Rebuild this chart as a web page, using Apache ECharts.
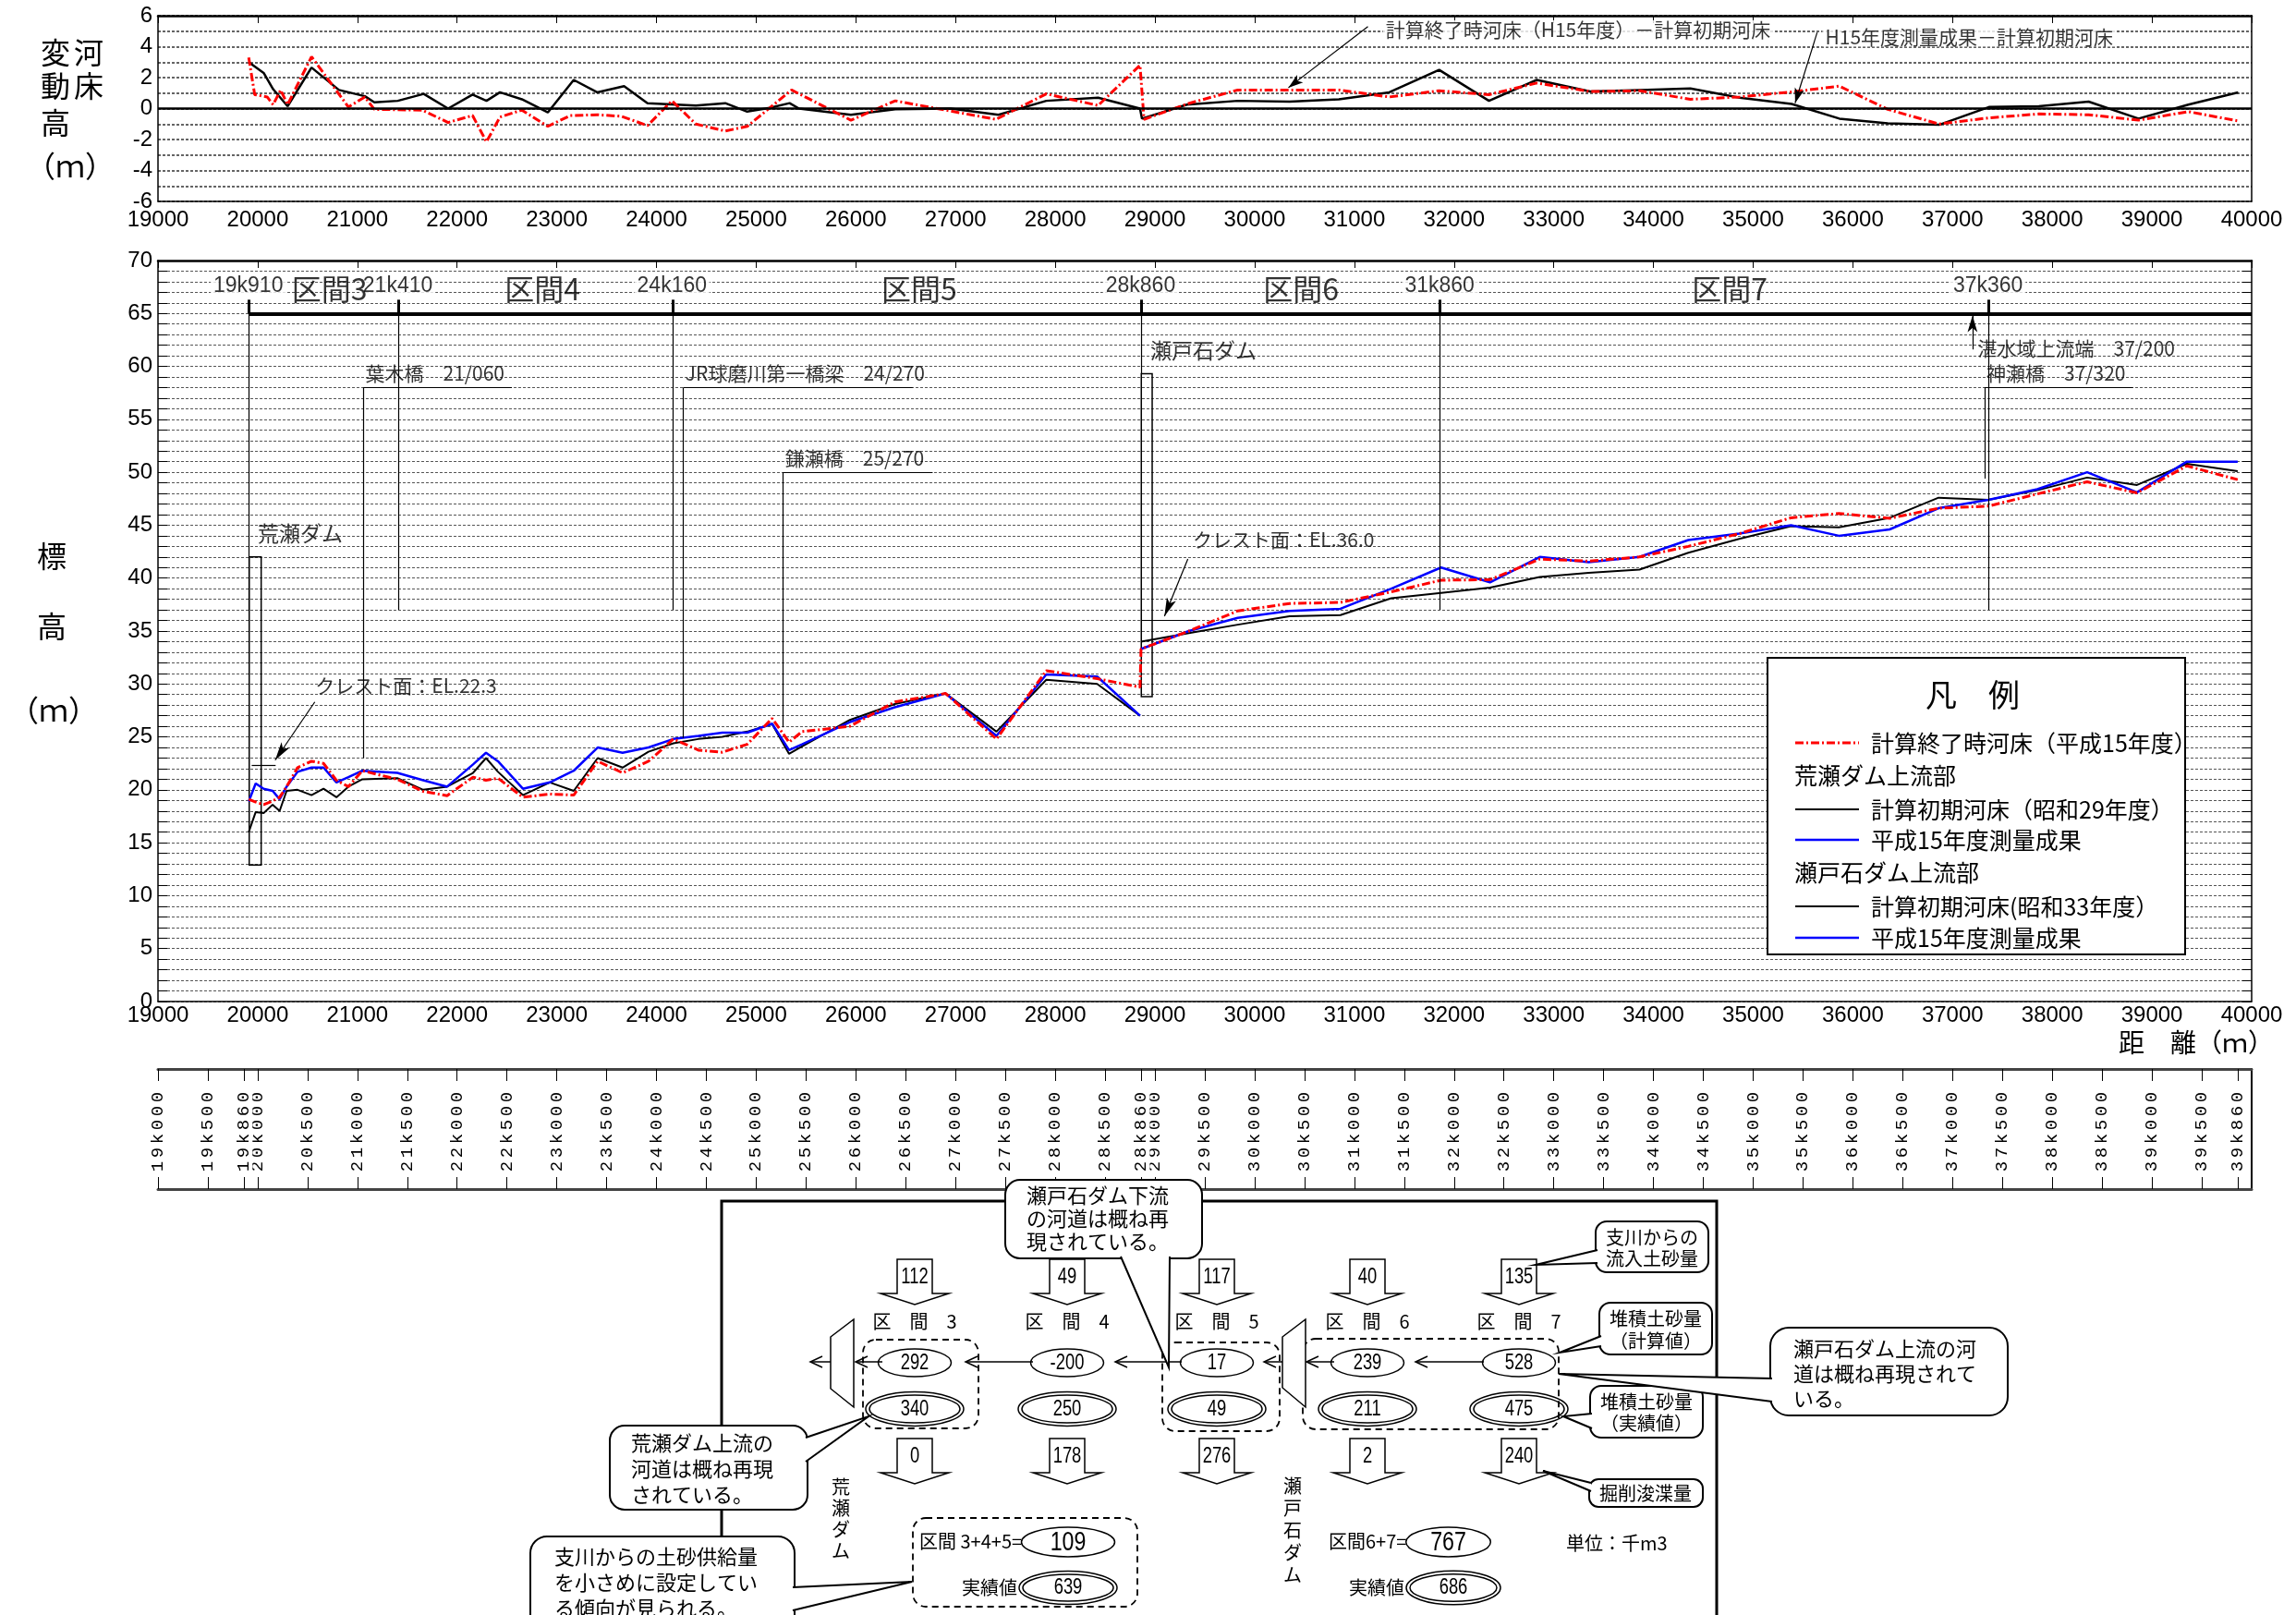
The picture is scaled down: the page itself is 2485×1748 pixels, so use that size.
<!DOCTYPE html>
<html>
<head>
<meta charset="utf-8">
<script src="https://cdn.jsdelivr.net/npm/echarts@6/dist/echarts.min.js"></script>
<style>
html,body{margin:0;padding:0;background:#fff;}
#c{width:2485px;height:1748px;}
</style>
</head>
<body>
<div id="c"></div>
<script>
// ---------------- longitudinal bed profile (distance m / elevation EL.m) ----------------
// 荒瀬ダム上流部
const distArase = [19910, 19980, 20060, 20150, 20220, 20290, 20400, 20540, 20660, 20790,
  20910, 21050, 21400, 21660, 21900, 22160, 22290, 22410, 22660, 22930,
  23170, 23410, 23660, 23920, 24170, 24420, 24660, 24910, 25160, 25330,
  25460, 25940, 26390, 26900, 27410, 27910, 28420, 28850];
const bedInitS29 = [16.0, 17.9, 17.8, 18.6, 18.0, 19.9, 20.0, 19.5, 20.1, 19.3,
  20.3, 21.0, 21.1, 20.0, 20.3, 21.6, 23.0, 21.7, 19.5, 20.7,
  19.9, 23.0, 22.1, 23.6, 24.4, 24.8, 25.0, 25.5, 26.2, 23.4,
  24.1, 26.6, 28.1, 29.1, 25.5, 30.4, 30.0, 27.0];
const bedSurveyArase = [18.9, 20.6, 20.1, 19.9, 19.1, 20.3, 21.7, 22.1, 22.1, 20.7,
  21.2, 21.8, 21.6, 20.9, 20.3, 22.4, 23.5, 22.7, 20.1, 20.7,
  21.8, 24.0, 23.5, 24.0, 24.8, 25.1, 25.4, 25.4, 26.25, 23.75,
  24.3, 26.4, 27.8, 29.1, 25.1, 30.9, 30.7, 27.0];
const bedCalcArase = [19.1, 18.85, 18.6, 18.95, 19.3, 20.3, 22.1, 22.7, 22.5, 20.9,
  20.3, 21.8, 21.0, 19.85, 19.45, 21.2, 20.9, 21.1, 19.3, 19.6,
  19.5, 22.7, 21.6, 22.7, 24.8, 23.75, 23.55, 24.3, 26.75, 24.5,
  25.5, 26.0, 28.3, 29.1, 24.8, 31.25, 30.5, 29.7];
// 瀬戸石ダム上流部
const distSetoishi = [28860, 29340, 29830, 30350, 30860, 31370, 31870, 32360, 32860, 33350,
  33860, 34350, 34860, 35380, 35860, 36370, 36860, 37360, 37850, 38350,
  38850, 39350, 39860];
const bedInitS33 = [34.0, 34.8, 35.6, 36.4, 36.5, 38.1, 38.6, 39.1, 40.1, 40.5,
  40.8, 42.4, 43.7, 44.9, 44.8, 45.7, 47.6, 47.4, 48.3, 49.5,
  48.8, 50.8, 50.1];
const bedSurveySetoishi = [33.3, 35.0, 36.25, 36.9, 37.1, 39.0, 41.0, 39.6, 42.0, 41.5,
  42.0, 43.6, 44.2, 45.0, 44.0, 44.6, 46.6, 47.4, 48.4, 50.0,
  48.1, 51.0, 51.0];
const bedCalcSetoishi = [33.3, 35.0, 36.9, 37.6, 37.7, 38.7, 39.8, 39.85, 41.8, 41.6,
  42.0, 43.0, 44.2, 45.7, 46.1, 45.65, 46.6, 46.8, 47.95, 49.1,
  48.05, 50.6, 49.3];

// ---------------- bed change relative to the initial bed [distance m, change m] ----------------
const changeCalc = [[19910,3.3],[19970,0.9],[20095,0.75],[20155,0.25],[20230,1.2],[20300,0.25],
  [20540,3.35],[20910,0.1],[21075,0.75],[21170,-0.05],[21650,-0.1],[21910,-0.9],[22155,-0.45],
  [22295,-2.15],[22430,-0.55],[22650,-0.1],[22910,-1.15],[23135,-0.45],[23405,-0.4],[23650,-0.5],
  [23910,-1.1],[24155,0.5],[24395,-1.0],[24690,-1.45],[24910,-1.15],[25355,1.2],[25950,-0.75],
  [26395,0.5],[27405,-0.7],[27910,0.95],[28430,0.2],[28850,2.8],[28890,-0.7],[29320,0.3],
  [29830,1.2],[30240,1.2],[30845,1.2],[31350,0.75],[31850,1.15],[32350,0.9],[32830,1.65],
  [33365,1.1],[33865,1.15],[34370,0.6],[34865,0.75],[35420,1.1],[35865,1.45],[36350,-0.05],
  [36865,-1.0],[37365,-0.6],[37865,-0.35],[38365,-0.4],[38865,-0.75],[39365,-0.2],[39865,-0.8]];
const changeSurvey = [[19910,3.0],[20060,2.3],[20155,1.25],[20300,0.15],[20540,2.65],[20815,1.2],
  [21075,0.8],[21170,0.4],[21405,0.5],[21665,0.95],[21910,0.0],[22155,0.9],[22295,0.5],
  [22430,1.05],[22650,0.6],[22910,-0.25],[23170,1.85],[23405,1.05],[23675,1.45],[23910,0.35],
  [24395,0.2],[24690,0.35],[24910,-0.2],[25135,0.05],[25335,0.35],[25430,0.0],[25950,-0.4],
  [26395,-0.05],[26950,0.0],[27430,-0.4],[27910,0.5],[28430,0.7],[28850,0.0],[28870,-0.65],
  [29320,0.25],[29830,0.5],[30350,0.45],[30845,0.6],[31350,1.05],[31850,2.5],[32350,0.5],
  [32830,1.85],[33365,1.1],[33865,1.2],[34370,1.3],[34865,0.7],[35385,0.3],[35865,-0.65],
  [36350,-0.95],[36865,-1.05],[37365,0.1],[37865,0.15],[38365,0.45],[38865,-0.65],[39365,0.25],
  [39865,1.05]];

// ---------------- reach boundaries, structures ----------------
const sectionPosts = [19910, 21410, 24160, 28860, 31860, 37360];
const sectionNames = ['区間3', '区間4', '区間5', '区間6', '区間7'];
const sectionNameDist = [20725, 22860, 26640, 30470, 34770];
const bridgeNames = ['葉木橋', 'JR球磨川第一橋梁', '鎌瀬橋', '神瀬橋'];
const bridgeDist = [21060, 24270, 25270, 37320];
const bridgeLabelElev = [58.0, 58.0, 50.0, 58.0];
const bridgeLeaderEnd = [22550, 26570, 26770, 38810];
const bridgeFootElev = [23.0, 24.9, 25.9, 49.4];
const damNames = ['荒瀬ダム', '瀬戸石ダム'];
const damDist = [19910, 28860];
const damTopElev = [42.0, 59.3];
const damBottomElev = [12.9, 28.8];
const crestEL = [22.3, 36.0];
const backwaterEnd = 37200; // 湛水域上流端

// km posts along the lower strip
const kmPosts = [19000, 19500, 20000, 20500, 21000, 21500, 22000, 22500, 23000, 23500,
  24000, 24500, 25000, 25500, 26000, 26500, 27000, 27500, 28000, 28500,
  29000, 29500, 30000, 30500, 31000, 31500, 32000, 32500, 33000, 33500,
  34000, 34500, 35000, 35500, 36000, 36500, 37000, 37500, 38000, 38500,
  39000, 39500, 39860, 19860, 28860];

// ---------------- sediment balance (千m3) per reach ----------------
const reachNos = [3, 4, 5, 6, 7];
const tributaryInflow = [112, 49, 117, 40, 135];
const depositCalc = [292, -200, 17, 239, 528];
const depositObs = [340, 250, 49, 211, 475];
const dredged = [0, 178, 276, 2, 240];
const totalCalc = [109, 767];   // 区間3+4+5, 区間6+7
const totalObs = [639, 686];

// ---------------------------------------------------------------------------
const JP = "'Noto Sans CJK JP','Noto Sans CJK SC',sans-serif";
const SANS = "'Liberation Sans Narrow','Liberation Sans','Noto Sans CJK JP',sans-serif";
const NUM = "'Liberation Sans',sans-serif";
const RED = '#ff0000', BLUE = '#0000ff', BLACK = '#000000';
const redDash = [9, 3, 2, 3];

const zip = (xs, ys) => xs.map((x, i) => [x, ys[i]]);
const kmLabel = v => Math.floor(v / 1000) + 'k' + String(v % 1000).padStart(3, '0');
const staLabel = v => Math.floor(v / 1000) + '/' + String(v % 1000).padStart(3, '0');

function seg(a, b, w) {
  return [{coord: a, symbol: 'none'},
          {coord: b, symbol: 'none', lineStyle: {width: w || 1.2, color: BLACK, type: 'solid'}}];
}
function arrowSeg(a, b, size) {
  return [{coord: a, symbol: 'none'},
          {coord: b, symbol: 'arrow', symbolSize: size || [8, 20],
           lineStyle: {width: 1.2, color: BLACK, type: 'solid'}}];
}
function note(x, y, text, opt) {
  opt = opt || {};
  const lab = {show: true, formatter: text, position: [0, 0],
    align: opt.align || 'left', verticalAlign: 'middle', fontSize: opt.size || 21,
    fontFamily: opt.family || JP, color: BLACK};
  if (opt.bg) { lab.backgroundColor = '#fff'; lab.padding = [0, 3]; }
  return {value: [x, y], label: lab};
}

// ---- profile annotations ----
const mainLines = [];
mainLines.push(seg([sectionPosts[0], 65], [40000, 65], 4));
sectionPosts.forEach(p => mainLines.push(seg([p, 65], [p, 66.3], 3)));
sectionPosts.forEach(p => mainLines.push(seg([p, 65], [p, p === damDist[1] ? damTopElev[1] : 37.0], 1.2)));
bridgeDist.forEach((d, i) => {
  mainLines.push(seg([d, bridgeLabelElev[i]], [bridgeLeaderEnd[i], bridgeLabelElev[i]], 1.2));
  mainLines.push(seg([d, bridgeLabelElev[i]], [d, bridgeFootElev[i]], 1.2));
});
mainLines.push(seg([damDist[0] + 30, crestEL[0]], [damDist[0] + 270, crestEL[0]], 1.2));
mainLines.push(seg([damDist[1], crestEL[1]], [damDist[1] + 560, crestEL[1]], 1.2));
mainLines.push(arrowSeg([20573, 28.3], [20175, crestEL[0] + 0.5]));
mainLines.push(arrowSeg([29330, 41.8], [29095, crestEL[1] + 0.4]));
mainLines.push(arrowSeg([backwaterEnd, 61.6], [backwaterEnd, 64.8], [8, 18]));

const mainNotes = [];
sectionPosts.forEach(p => mainNotes.push(note(p, 67.5, kmLabel(p), {align: 'center', size: 23, family: SANS, bg: true})));
sectionNames.forEach((n, i) => mainNotes.push(note(sectionNameDist[i], 67.3, n, {align: 'center', size: 32})));
bridgeNames.forEach((n, i) => mainNotes.push(note(bridgeDist[i] + 25, bridgeLabelElev[i] + 1.3, n + '　' + staLabel(bridgeDist[i]))));
mainNotes.push(note(damDist[0] + 95, 44.2, damNames[0], {size: 23}));
mainNotes.push(note(damDist[1] + 98, 61.5, damNames[1], {size: 23}));
mainNotes.push(note(20583, 29.8, 'クレスト面：EL.' + crestEL[0].toFixed(1)));
mainNotes.push(note(29384, 43.6, 'クレスト面：EL.' + crestEL[1].toFixed(1)));
mainNotes.push(note(backwaterEnd + 57, 61.7, '湛水域上流端　' + staLabel(backwaterEnd)));

const topNotes = [
  note(31290, 5.05, '計算終了時河床（H15年度）－計算初期河床', {bg: true}),
  note(35700, 4.6, 'H15年度測量成果－計算初期河床', {bg: true})
];

// ---------------- graphic layer: titles, legend, balance diagram ----------------
const G = [];
function txt(x, y, text, size, opt) {
  opt = opt || {};
  const a = opt.align || 'left', va = opt.va || 'middle';
  G.push({type: 'text', x: x, y: y, scaleX: opt.sx || 1, silent: true, z: 50,
    style: {text: text, fill: BLACK, font: (opt.weight || 'normal') + ' ' + size + 'px ' + (opt.family || JP),
      align: a, verticalAlign: va, textAlign: a, textVerticalAlign: va, lineHeight: opt.lh}});
}
function gline(x1, y1, x2, y2, w, color, dash) {
  G.push({type: 'line', silent: true, z: 50, shape: {x1: x1, y1: y1, x2: x2, y2: y2},
    style: {stroke: color || BLACK, lineWidth: w || 2, lineDash: dash || null}});
}
function grect(x, y, w, h, r, style) {
  G.push({type: 'rect', silent: true, z: 50, shape: {x: x, y: y, width: w, height: h, r: r || 0}, style: style});
}
function gpoly(points, fill, w, closed) {
  G.push({type: closed ? 'polygon' : 'polyline', silent: true, z: 50, shape: {points: points},
    style: {fill: fill || null, stroke: BLACK, lineWidth: w || 1.5}});
}
function gellipse(cx, cy, rx, ry, w) {
  G.push({type: 'ellipse', silent: true, z: 50, shape: {cx: cx, cy: cy, rx: rx, ry: ry},
    style: {fill: null, stroke: BLACK, lineWidth: w || 1.5}});
}
function bubble(x, y, w, h, r, tail) {
  grect(x, y, w, h, r, {fill: '#fff', stroke: BLACK, lineWidth: 2});
  gpoly(tail, '#fff', 2, false);
}

// axis titles
txt(60, 57, '変', 32, {align: 'center'});
txt(96, 57, '河', 32, {align: 'center'});
txt(60, 93, '動', 32, {align: 'center'});
txt(96, 93, '床', 32, {align: 'center'});
txt(60, 133, '高', 32, {align: 'center'});
txt(76, 180, '（ｍ）', 32, {align: 'center'});
txt(56, 602, '標', 32, {align: 'center'});
txt(56, 678, '高', 32, {align: 'center'});
txt(58, 769, '（ｍ）', 32, {align: 'center'});
txt(2293, 1128, '距　離（ｍ）', 28);

// legend
grect(1913, 712, 452, 321, 0, {fill: '#fff', stroke: BLACK, lineWidth: 2});
txt(2135, 752, '凡　例', 34, {align: 'center'});
gline(1943, 804, 2012, 804, 3, RED, redDash);
txt(2025, 804, '計算終了時河床（平成15年度）', 25);
txt(1942, 839, '荒瀬ダム上流部', 25);
gline(1943, 876, 2012, 876, 2, BLACK);
txt(2025, 876, '計算初期河床（昭和29年度）', 25);
gline(1943, 909, 2012, 909, 2.5, BLUE);
txt(2025, 909, '平成15年度測量成果', 25);
txt(1942, 944, '瀬戸石ダム上流部', 25);
gline(1943, 981, 2012, 981, 2, BLACK);
txt(2025, 981, '計算初期河床(昭和33年度）', 25);
gline(1943, 1015, 2012, 1015, 2.5, BLUE);
txt(2025, 1015, '平成15年度測量成果', 25);

// balance diagram frame
grect(781, 1300, 1077, 520, 0, {fill: null, stroke: BLACK, lineWidth: 3});

const colX = [990, 1155, 1317, 1480, 1644];
function blockArrow(cx, y0, label) {
  gpoly([[cx - 19, y0], [cx + 19, y0], [cx + 19, y0 + 37], [cx + 37, y0 + 37], [cx, y0 + 49],
         [cx - 37, y0 + 37], [cx - 19, y0 + 37]], '#fff', 1.5, true);
  txt(cx, y0 + 20, String(label), 23, {align: 'center', family: NUM, sx: 0.8});
}
function flowArrow(x1, x2, y) {
  gline(x1, y, x2, y, 1.5);
  gpoly([[x2 + 13, y - 6], [x2, y], [x2 + 13, y + 6]], null, 1.5, false);
}
const dashStyle = {fill: null, stroke: BLACK, lineWidth: 1.8, lineDash: [7, 5]};

// reach groups
grect(934, 1450, 125, 96, 14, dashStyle);
grect(1258, 1453, 127, 96, 14, dashStyle);
grect(1410, 1449, 277, 98, 14, dashStyle);
grect(988, 1643, 243, 96, 14, dashStyle);

// flows between reaches
flowArrow(1606, 1532, 1474);
flowArrow(1444, 1414, 1474);
flowArrow(1388, 1368, 1474);
flowArrow(1279, 1207, 1474);
flowArrow(1118, 1045, 1474);
flowArrow(955, 926, 1474);
flowArrow(899, 877, 1474);

// dams
gpoly([[899, 1447], [924, 1428], [924, 1523], [899, 1503]], '#fff', 1.5, true);
gpoly([[1388, 1447], [1413, 1428], [1413, 1523], [1388, 1502]], '#fff', 1.5, true);
txt(910, 1644, '荒\n瀬\nダ\nム', 20, {align: 'center', lh: 23});
txt(1399, 1656, '瀬\n戸\n石\nダ\nム', 20, {align: 'center', lh: 24});

reachNos.forEach((n, i) => {
  const cx = colX[i];
  blockArrow(cx, 1363, tributaryInflow[i]);
  txt(cx, 1430, '区　間　' + n, 20, {align: 'center'});
  gellipse(cx, 1475, 39.5, 15);
  txt(cx, 1476, String(depositCalc[i]), 23, {align: 'center', family: NUM, sx: 0.8});
  gellipse(cx, 1525, 53, 18.5);
  gellipse(cx, 1525, 49, 15);
  txt(cx, 1526, String(depositObs[i]), 23, {align: 'center', family: NUM, sx: 0.8});
  blockArrow(cx, 1557, dredged[i]);
});

// totals
txt(995, 1668, '区間 3+4+5=', 20);
gellipse(1156, 1669, 50.5, 16);
txt(1156, 1670, String(totalCalc[0]), 29, {align: 'center', family: NUM, sx: 0.8});
txt(1101, 1718, '実績値', 20, {align: 'right'});
gellipse(1156, 1718.5, 53, 18);
gellipse(1156, 1718.5, 49, 14.5);
txt(1156, 1719, String(totalObs[0]), 23, {align: 'center', family: NUM, sx: 0.8});
txt(1438, 1668, '区間6+7=', 20);
gellipse(1567.5, 1669, 45.8, 16);
txt(1567.5, 1670, String(totalCalc[1]), 29, {align: 'center', family: NUM, sx: 0.8});
txt(1520, 1718, '実績値', 20, {align: 'right'});
gellipse(1573, 1718.5, 51, 18.3);
gellipse(1573, 1718.5, 47, 14.8);
txt(1573, 1719, String(totalObs[1]), 23, {align: 'center', family: NUM, sx: 0.8});
txt(1695, 1670, '単位：千m3', 20);

// callouts
bubble(1088, 1277, 213, 85, 16, [[1213, 1360], [1265, 1480], [1266, 1360]]);
txt(1111, 1294, '瀬戸石ダム下流', 22);
txt(1111, 1319, 'の河道は概ね再', 22);
txt(1111, 1344, '現されている。', 22);

bubble(660, 1543, 214, 91, 16, [[872, 1556], [940, 1533], [872, 1582]]);
txt(683, 1562, '荒瀬ダム上流の', 22);
txt(683, 1590, '河道は概ね再現', 22);
txt(683, 1618, 'されている。', 22);

bubble(574, 1663, 286, 120, 18, [[858, 1718], [987, 1712], [858, 1743]]);
txt(600, 1685, '支川からの土砂供給量', 22);
txt(600, 1713, 'を小さめに設定してい', 22);
txt(600, 1741, 'る傾向が見られる。', 22);

bubble(1727, 1322, 122, 55, 12, [[1729, 1353], [1662, 1369], [1729, 1367]]);
txt(1788, 1339, '支川からの', 20, {align: 'center'});
txt(1788, 1362, '流入土砂量', 20, {align: 'center'});

bubble(1731, 1410, 122, 56, 12, [[1733, 1446], [1688, 1464], [1733, 1457]]);
txt(1792, 1427, '堆積土砂量', 20, {align: 'center'});
txt(1792, 1451, '（計算値）', 20, {align: 'center'});

bubble(1721, 1500, 122, 56, 12, [[1723, 1530], [1692, 1533], [1723, 1546]]);
txt(1782, 1517, '堆積土砂量', 20, {align: 'center'});
txt(1782, 1540, '（実績値）', 20, {align: 'center'});

bubble(1720, 1601, 123, 30, 10, [[1722, 1605], [1670, 1592], [1722, 1614]]);
txt(1781, 1616, '掘削浚渫量', 20, {align: 'center'});

bubble(1916, 1437, 257, 95, 20, [[1918, 1492], [1687, 1487], [1918, 1517]]);
txt(1941, 1460, '瀬戸石ダム上流の河', 22);
txt(1941, 1487, '道は概ね再現されて', 22);
txt(1941, 1514, 'いる。', 22);

// ---------------------------------------------------------------------------
const gridLine = {show: true, lineStyle: {color: '#555', width: 1, type: [3, 2]}};
const topGridLine = {show: true, lineStyle: {color: '#333', width: 1.5, type: [3, 2]}};
const noLabel = {show: false};

function distAxis(grid, pos, withLabels, margin) {
  return {gridIndex: grid, type: 'value', min: 19000, max: 40000, interval: 1000, position: pos,
    axisLine: {show: true, onZero: false, lineStyle: {color: BLACK, width: pos === 'top' ? 2.5 : 1.5}},
    axisTick: pos === 'top' ? {show: true, inside: true, length: 8, lineStyle: {color: BLACK, width: 1}} : {show: false},
    axisLabel: withLabels ? {show: true, fontSize: 24, color: BLACK, fontFamily: SANS, margin: margin,
      formatter: v => String(v)} : noLabel,
    splitLine: {show: false}};
}

const option = {
  animation: false,
  backgroundColor: '#ffffff',
  textStyle: {fontFamily: JP},
  grid: [
    {left: 171, top: 17, width: 2266, height: 201},
    {left: 171, top: 282, width: 2266, height: 802},
    {left: 171, top: 1157, width: 2266, height: 130}
  ],
  xAxis: [
    distAxis(0, 'bottom', true, 8),
    distAxis(0, 'top', false),
    distAxis(1, 'bottom', true, 3),
    distAxis(1, 'top', false),
    {gridIndex: 2, type: 'value', min: 19000, max: 40000, position: 'bottom',
      axisLine: {show: true, onZero: false, lineStyle: {color: '#444', width: 3}},
      axisTick: {show: true, inside: true, length: 13, customValues: kmPosts, lineStyle: {color: BLACK, width: 1}},
      axisLabel: {show: true, inside: true, rotate: 90, margin: 17, customValues: kmPosts,
        backgroundColor: '#fff',
        formatter: v => kmLabel(v).split('').map(ch => '{c|' + ch + '}').join(''),
        rich: {c: {width: 15, align: 'center', fontSize: 19, fontFamily: "'Liberation Mono','DejaVu Sans Mono',monospace", color: BLACK}}},
      splitLine: {show: false}},
    {gridIndex: 2, type: 'value', min: 19000, max: 40000, position: 'top',
      axisLine: {show: true, onZero: false, lineStyle: {color: '#444', width: 3}},
      axisTick: {show: true, inside: true, length: 13, customValues: kmPosts, lineStyle: {color: BLACK, width: 1}},
      axisLabel: noLabel, splitLine: {show: false}}
  ],
  yAxis: [
    {gridIndex: 0, type: 'value', min: -6, max: 6, interval: 2, position: 'left',
      axisLine: {show: true, lineStyle: {color: BLACK, width: 1.5}}, axisTick: {show: false},
      axisLabel: {fontSize: 24, color: BLACK, fontFamily: SANS, margin: 6},
      splitLine: topGridLine, minorTick: {show: false, splitNumber: 2}, minorSplitLine: topGridLine},
    {gridIndex: 0, type: 'value', min: -6, max: 6, position: 'right',
      axisLine: {show: true, lineStyle: {color: BLACK, width: 1.5}}, axisTick: {show: false},
      axisLabel: noLabel, splitLine: {show: false}},
    {gridIndex: 1, type: 'value', min: 0, max: 70, interval: 5, position: 'left',
      axisLine: {show: true, lineStyle: {color: BLACK, width: 1.5}},
      axisTick: {show: true, inside: true, length: 10, lineStyle: {color: BLACK}},
      minorTick: {show: true, splitNumber: 5, length: 10, lineStyle: {color: BLACK}},
      axisLabel: {fontSize: 24, color: BLACK, fontFamily: SANS, margin: 6},
      splitLine: gridLine, minorSplitLine: gridLine},
    {gridIndex: 1, type: 'value', min: 0, max: 70, interval: 5, position: 'right',
      axisLine: {show: true, lineStyle: {color: BLACK, width: 1.5}},
      axisTick: {show: true, inside: true, length: 10, lineStyle: {color: BLACK}},
      minorTick: {show: true, splitNumber: 5, length: 10, lineStyle: {color: BLACK}},
      axisLabel: noLabel, splitLine: {show: false}},
    {gridIndex: 2, type: 'value', min: 0, max: 1, show: false},
    {gridIndex: 2, type: 'value', min: 0, max: 1, position: 'right',
      axisLine: {show: true, lineStyle: {color: BLACK, width: 2}}, axisTick: {show: false},
      axisLabel: noLabel, splitLine: {show: false}}
  ],
  series: [
    {name: '計算終了時河床（H15年度）－計算初期河床', type: 'line', xAxisIndex: 0, yAxisIndex: 0,
      data: changeCalc, symbol: 'none', z: 4, lineStyle: {color: RED, width: 3, type: redDash},
      markLine: {silent: true, animation: false, symbol: ['none', 'none'], label: {show: false},
        emphasis: {disabled: true}, lineStyle: {color: BLACK, width: 1.2, type: 'solid'},
        data: [
          {yAxis: 0, lineStyle: {color: BLACK, width: 2.5, type: 'solid'}},
          arrowSeg([31136, 5.3], [30338, 1.35], [8, 16]),
          arrowSeg([35642, 4.92], [35421, 0.36], [8, 16])
        ]}},
    {name: 'H15年度測量成果－計算初期河床', type: 'line', xAxisIndex: 0, yAxisIndex: 0,
      data: changeSurvey, symbol: 'none', z: 3, lineStyle: {color: BLACK, width: 2.5}},
    {type: 'scatter', xAxisIndex: 0, yAxisIndex: 0, symbolSize: 1, silent: true,
      itemStyle: {color: 'rgba(0,0,0,0)'}, data: topNotes},

    {name: '計算初期河床（昭和29年度）', type: 'line', xAxisIndex: 2, yAxisIndex: 2,
      data: zip(distArase, bedInitS29), symbol: 'none', z: 3, lineStyle: {color: BLACK, width: 2}},
    {name: '平成15年度測量成果（荒瀬ダム上流部）', type: 'line', xAxisIndex: 2, yAxisIndex: 2,
      data: zip(distArase, bedSurveyArase), symbol: 'none', z: 3, lineStyle: {color: BLUE, width: 2.5}},
    {name: '計算初期河床（昭和33年度）', type: 'line', xAxisIndex: 2, yAxisIndex: 2,
      data: zip(distSetoishi, bedInitS33), symbol: 'none', z: 3, lineStyle: {color: BLACK, width: 2}},
    {name: '平成15年度測量成果（瀬戸石ダム上流部）', type: 'line', xAxisIndex: 2, yAxisIndex: 2,
      data: zip(distSetoishi, bedSurveySetoishi), symbol: 'none', z: 3, lineStyle: {color: BLUE, width: 2.5}},
    {name: '計算終了時河床（平成15年度）', type: 'line', xAxisIndex: 2, yAxisIndex: 2,
      data: zip(distArase, bedCalcArase).concat(zip(distSetoishi, bedCalcSetoishi)),
      symbol: 'none', z: 4, lineStyle: {color: RED, width: 3, type: redDash}},
    {name: 'annotations', type: 'scatter', xAxisIndex: 2, yAxisIndex: 2, symbolSize: 1, silent: true,
      itemStyle: {color: 'rgba(0,0,0,0)'}, data: mainNotes,
      markLine: {silent: true, animation: false, symbol: ['none', 'none'], label: {show: false},
        emphasis: {disabled: true}, lineStyle: {color: BLACK, width: 1.2, type: 'solid'},
        itemStyle: {color: BLACK}, data: mainLines},
      markArea: {silent: true, animation: false, label: {show: false},
        itemStyle: {color: 'rgba(0,0,0,0)', borderColor: BLACK, borderWidth: 1.5},
        data: [
          [{coord: [damDist[0] + 5, damTopElev[0]]}, {coord: [damDist[0] + 125, damBottomElev[0]]}],
          [{coord: [damDist[1] + 3, damTopElev[1]]}, {coord: [damDist[1] + 112, damBottomElev[1]]}]
        ]}}
  ],
  graphic: {elements: G}
};

const chart = echarts.init(document.getElementById('c'), null, {renderer: 'canvas', width: 2485, height: 1748});
chart.setOption(option);
</script>
</body>
</html>
